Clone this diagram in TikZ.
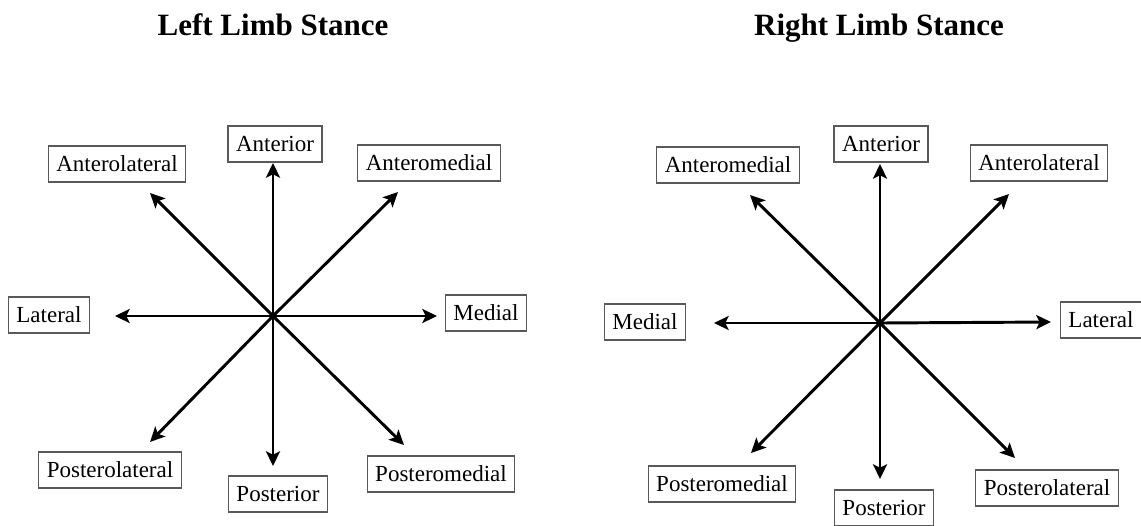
\documentclass[tikz,border=0pt]{standalone}
\usepackage{fontspec}
\setmainfont{Liberation Serif}
\usepackage{tikz}
\usetikzlibrary{arrows.meta}

\begin{document}
\begin{tikzpicture}[x=0.75pt,y=-0.75pt,
	>={Stealth[length=11pt,width=10.5pt,inset=2.5pt]},
	arr/.style={->,line width=2.2pt},
	dirbox/.style={draw=black!65,line width=0.9pt,inner xsep=6pt,inner ysep=0pt,
		minimum height=27pt,text height=11.5pt,text depth=0.5pt,
		font=\fontsize{17.25pt}{20pt}\selectfont},
	heading/.style={anchor=base,font=\fontsize{23.25pt}{28pt}\selectfont\bfseries}]
	
	\useasboundingbox (0,0) rectangle (1141,525);
	
	% left limb
	\coordinate (CL) at (273,316);  % the centre
	\coordinate (tL1) at (273,163);
	\coordinate (tL2) at (398,192);
	\coordinate (tL3) at (437,316);
	\coordinate (tL4) at (404,445);
	\coordinate (tL5) at (273,466);
	\coordinate (tL6) at (150,442);
	\coordinate (tL7) at (115,316);
	\coordinate (tL8) at (150,193);
	
	% right limb
	\coordinate (CR) at (880,323);  % the centre
	\coordinate (tR1) at (880,164);
	\coordinate (tR2) at (1009,194);
	\coordinate (tR3) at (1051,322);
	\coordinate (tR4) at (1015,458);
	\coordinate (tR5) at (880,479);
	\coordinate (tR6) at (751,453);
	\coordinate (tR7) at (714,323);
	\coordinate (tR8) at (750,195);
	
	\draw[arr] (CL)--(tL1);
	\draw[arr] (CL)--(tL2);
	\draw[arr] (CL)--(tL3);
	\draw[arr] (CL)--(tL4);
	\draw[arr] (CL)--(tL5);
	\draw[arr] (CL)--(tL6);
	\draw[arr] (CL)--(tL7);
	\draw[arr] (CL)--(tL8);
	
	\draw[arr] (CR)--(tR1);
	\draw[arr] (CR)--(tR2);
	\draw[arr] (CR)--(tR3);
	\draw[arr] (CR)--(tR4);
	\draw[arr] (CR)--(tR5);
	\draw[arr] (CR)--(tR6);
	\draw[arr] (CR)--(tR7);
	\draw[arr] (CR)--(tR8);
	
	\fill (CL) circle (2.8pt)  (CR) circle (2.8pt);
	
	\node[heading] (titleL) at (273,35) {Left Limb Stance};
	\node[heading] (titleR) at (879,35) {Right Limb Stance};
	
	\node[dirbox] (antL)   at (275,144) {Anterior};
	\node[dirbox] (amedL)  at (429,163) {Anteromedial};
	\node[dirbox] (medL)   at (486,313) {Medial};
	\node[dirbox] (pmedL)  at (441,474) {Posteromedial};
	\node[dirbox] (postL)  at (278,494) {Posterior};
	\node[dirbox] (platL)  at (110,470) {Posterolateral};
	\node[dirbox] (latL)   at (49,315)  {Lateral};
	\node[dirbox] (alatL)  at (117,164) {Anterolateral};
	
	\node[dirbox] (antR)   at (881,144)  {Anterior};
	\node[dirbox] (alatR)  at (1039,163) {Anterolateral};
	\node[dirbox] (latR)   at (1101,320) {Lateral};
	\node[dirbox] (platR)  at (1047,488) {Posterolateral};
	\node[dirbox] (postR)  at (884,508)  {Posterior};
	\node[dirbox] (pmedR)  at (722,484)  {Posteromedial};
	\node[dirbox] (medR)   at (645,322)  {Medial};
	\node[dirbox] (amedR)  at (728,165)  {Anteromedial};
	
\end{tikzpicture}
\end{document}
